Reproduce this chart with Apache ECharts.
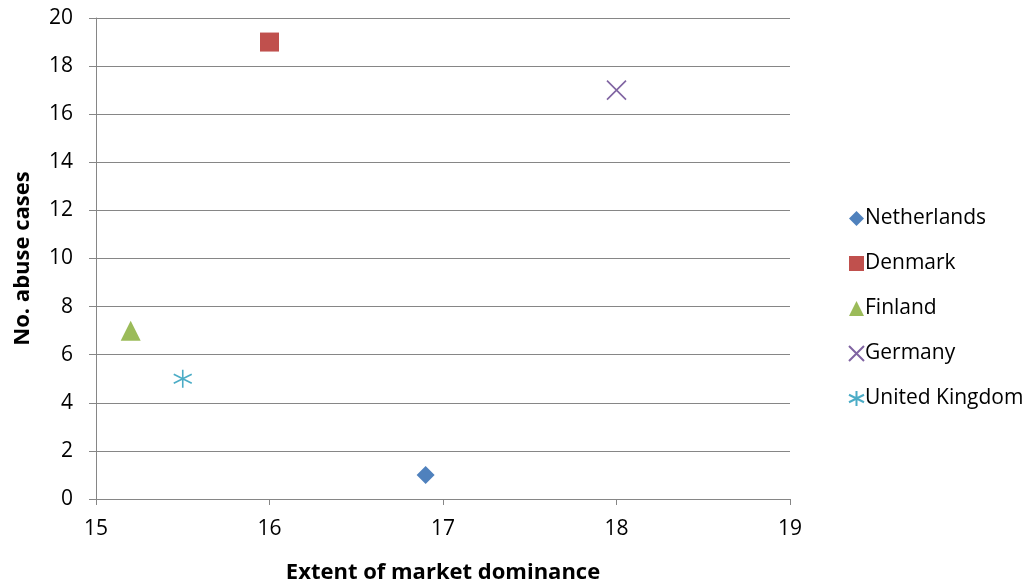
<!DOCTYPE html>
<html><head><meta charset="utf-8">
<script src="https://cdn.jsdelivr.net/npm/echarts@6/dist/echarts.min.js"></script>
<style>html,body{margin:0;padding:0;background:#fff}#c{width:1027px;height:587px}</style>
</head><body><div id="c"></div>
<script>
const countries = ['Netherlands', 'Denmark', 'Finland', 'Germany', 'United Kingdom'];
const dominance = [16.9, 16, 15.2, 18, 15.5];
const abuseCases = [1, 19, 7, 17, 5];
const xTicks = [15, 16, 17, 18, 19];
const yTicks = [0, 2, 4, 6, 8, 10, 12, 14, 16, 18, 20];

const colors = ['#4F81BD', '#C0504D', '#9BBB59', '#8064A2', '#4BACC6'];
const FONT = '"Open Sans"';
const xPath = 'path://M0 0L10 10M10 0L0 10';
const starPath = 'path://M5 0L5 10M0 2.5L10 7.5M10 2.5L0 7.5';
const symbolDefs = [
  {symbol: 'diamond', size: 18, fill: true},
  {symbol: 'rect', size: 19, fill: true},
  {symbol: 'triangle', size: 20, fill: true},
  {symbol: xPath, size: 19, fill: false},
  {symbol: starPath, size: 18, fill: false}
];

const series = countries.map((name, i) => {
  const d = symbolDefs[i];
  return {
    name: name,
    type: 'scatter',
    data: [[dominance[i], abuseCases[i]]],
    symbol: d.symbol,
    symbolSize: d.size,
    itemStyle: d.fill ? {color: colors[i], opacity: 1} : {color: 'rgba(0,0,0,0)', borderColor: colors[i], borderWidth: 1.6, opacity: 1}
  };
});

const chart = echarts.init(document.getElementById('c'), null, {renderer: 'canvas'});
chart.setOption({
  animation: false,
  backgroundColor: '#fff',
  color: colors,
  grid: {left: 96, right: 237, top: 18, bottom: 88, containLabel: false, outerBoundsMode: 'none'},
  legend: {
    orient: 'vertical',
    left: 843, top: 203,
    itemWidth: 15, itemHeight: 15, itemGap: 24,
    textStyle: {fontFamily: FONT, fontSize: 21, color: '#000', padding: [0, 0, 0, -4]},
    data: countries.map((n, i) => ({name: n, icon: symbolDefs[i].symbol}))
  },
  xAxis: {
    type: 'value', min: xTicks[0], max: xTicks[xTicks.length - 1], interval: 1,
    name: 'Extent of market dominance', nameLocation: 'middle', nameGap: 63,
    nameTextStyle: {fontFamily: FONT, fontSize: 22, fontWeight: 'bold', color: '#000'},
    axisLine: {show: true, lineStyle: {color: '#868686', width: 1}},
    axisTick: {show: true, length: 6, lineStyle: {color: '#868686'}},
    axisLabel: {fontFamily: FONT, fontSize: 21, color: '#000', margin: 20},
    splitLine: {show: false}
  },
  yAxis: {
    type: 'value', min: yTicks[0], max: yTicks[yTicks.length - 1], interval: 2,
    name: 'No. abuse cases', nameLocation: 'middle', nameGap: 62, nameRotate: 90,
    nameTextStyle: {fontFamily: FONT, fontSize: 22, fontWeight: 'bold', color: '#000'},
    axisLine: {show: true, lineStyle: {color: '#868686', width: 1}},
    axisTick: {show: true, length: 7, lineStyle: {color: '#868686'}},
    axisLabel: {fontFamily: FONT, fontSize: 21, color: '#000', margin: 23},
    splitLine: {show: true, lineStyle: {color: '#868686', width: 1}}
  },
  series: series
});
</script></body></html>
